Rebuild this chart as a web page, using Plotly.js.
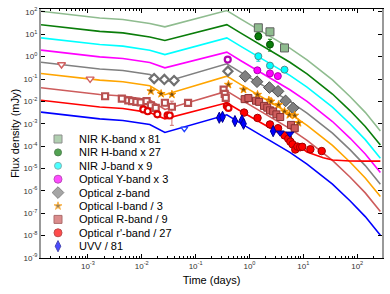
<!DOCTYPE html>
<html><head><meta charset="utf-8">
<script src="https://cdn.plot.ly/plotly-3.0.1.min.js"></script>
<style>html,body{margin:0;padding:0;background:#fff}#chart{width:390px;height:294px}</style>
</head><body><div id="chart"></div>
<script>
// ---- model curves (time in days, flux in mJy) ----
const tModel = [1.35e-4, 5.0e-4, 1.66e-3, 4.47e-3, 8.13e-3, 0.0141, 0.0269, 0.1, 0.38, 0.68, 1.38, 2.75, 5.62, 11.7, 23.4, 34.7, 74.1, 141, 269];
const modelK = [107, 75.9, 53.7, 45.7, 38.0, 30.2, 21.4, 49.5, 115, 49.0, 18.2, 6.92, 2.40, 0.724, 0.204, 0.0912, 0.0162, 0.00324, 0.000479];
const modelH = [26.9, 19.1, 13.5, 11.5, 9.55, 7.59, 5.25, 11.9, 26.9, 11.5, 4.27, 1.62, 0.562, 0.170, 0.0479, 0.0214, 0.0038, 0.000759, 0.000112];
const modelJ = [6.92, 4.90, 3.47, 2.95, 2.45, 1.95, 1.23, 2.92, 6.92, 2.95, 1.10, 0.417, 0.145, 0.0437, 0.0123, 0.0055, 0.000977, 0.000195, 0.0000288];
const modelY = [1.95, 1.38, 0.977, 0.832, 0.692, 0.550, 0.316, 0.708, 1.585, 0.676, 0.251, 0.0955, 0.0331, 0.01, 0.00282, 0.00126, 0.000224, 4.47e-5, 6.61e-6];
const modelZ = [0.562, 0.398, 0.282, 0.240, 0.200, 0.158, 0.0741, 0.188, 0.479, 0.204, 0.0759, 0.0288, 0.01, 0.00302, 0.000851, 0.00038, 6.76e-5, 1.35e-5, 2.0e-6];
const modelI = [0.178, 0.126, 0.0891, 0.0759, 0.0631, 0.0501, 0.02, 0.0519, 0.135, 0.0575, 0.0214, 0.00813, 0.00282, 0.000851, 0.00024, 0.000107, 1.91e-5, 3.8e-6, 5.62e-7];
const modelR = [0.0407, 0.0288, 0.0204, 0.0174, 0.0145, 0.0115, 0.00437, 0.0112, 0.0288, 0.0123, 0.00457, 0.00174, 0.000603, 0.000182, 5.13e-5, 2.29e-5, 4.07e-6, 8.13e-7, 1.2e-7];
const modelRp = [0.01122, 0.00794, 0.00562, 0.00479, 0.00398, 0.00316, 0.00166, 0.0038, 0.00871, 0.00374, 0.0014, 0.000546, 0.000203, 5.5e-5, 3.0e-5, 2.4e-5, 2.15e-5, 2.14e-5, 2.14e-5];
const modelUVV = [0.00331, 0.00234, 0.00166, 0.00141, 0.00117, 0.000933, 0.000407, 0.00101, 0.00251, 0.00107, 0.000398, 0.000151, 5.25e-5, 1.58e-5, 4.47e-6, 2.0e-6, 3.55e-7, 7.08e-8, 1.05e-8];

// ---- observations ----
const kT = [1.46, 2.40, 4.47];           const kF = [19.5, 12.9, 2.45];
const hT = [1.46, 2.40];                 const hF = [8.13, 3.47];
const hErrUp = [3.4, 2.5];               const hErrDn = [2.4, 1.7];
const jT = [1.46, 2.40, 4.47];           const jF = [1.047, 0.398, 0.263];
const jErrUp = [0.18, 0.05, 0.04];       const jErrDn = [0.42, 0.05, 0.04];
const yOpenT = [0.395];                  const yOpenF = [0.741];
const yT = [1.40, 2.40, 3.36];           const yF = [0.245, 0.178, 0.135];
const zOpenT = [0.017, 0.0263, 0.0398, 0.398]; const zOpenF = [0.105, 0.0955, 0.0851, 0.224];
const zT = [0.832, 1.38, 2.34, 3.39, 4.68, 6.46]; const zF = [0.132, 0.0759, 0.0417, 0.0282, 0.0105, 0.00501];
const iT = [0.0148, 0.0229, 0.0363, 0.407, 0.776, 1.41, 2.29, 2.51, 3.47, 4.47, 5.50, 6.92, 8.13];
const iF = [0.0288, 0.0219, 0.0204, 0.0562, 0.0339, 0.02, 0.0112, 0.01, 0.00708, 0.00355, 0.00251, 0.00234, 0.0011];
const rOpenT = [0.00209, 0.00427, 0.00562, 0.00661, 0.00794, 0.00955, 0.0123, 0.0148, 0.0182, 0.0269, 0.0363, 0.0724, 0.331, 0.347, 0.363];
const rOpenF = [0.017, 0.0132, 0.011, 0.0102, 0.00955, 0.00912, 0.0102, 0.00661, 0.00513, 0.00871, 0.00575, 0.00851, 0.0339, 0.0219, 0.0145];
const rOpenErrUp = [0, 0, 0, 0, 0, 0, 0, 0, 0, 0, 0.0045, 0, 0, 0, 0];
const rOpenErrDn = [0, 0, 0, 0, 0, 0, 0, 0, 0, 0, 0.0049, 0, 0, 0, 0];
const rT = [0.813, 0.955, 1.32, 1.51, 1.86, 2.14, 2.40, 2.75, 3.16, 3.72, 5.89, 6.92];
const rF = [0.0126, 0.0141, 0.0107, 0.00955, 0.00631, 0.00525, 0.00398, 0.00355, 0.00263, 0.002, 0.000891, 0.000631];
const rpOpenT = [0.0107, 0.0129, 0.0195, 0.0302, 0.0331, 0.38, 0.407];
const rpOpenF = [0.00437, 0.00363, 0.00263, 0.0024, 0.00234, 0.00617, 0.00513];
const rpT = [0.794, 1.41, 2.40, 3.39, 4.47, 5.25, 5.75, 6.31, 7.08, 7.76, 8.71, 9.55, 13.5, 21.9];
const rpF = [0.00316, 0.00182, 0.000933, 0.000631, 0.000302, 0.000214, 0.000158, 0.00012, 7.08e-5, 9.55e-5, 8.91e-5, 9.33e-5, 7.24e-5, 6.03e-5];
const uvvT = [0.275, 0.316, 0.537, 0.724, 0.776, 2.75];
const uvvF = [0.00186, 0.00204, 0.00132, 0.00141, 0.001, 0.000468];
const uvvErr = [0.0003, 0.0003, 0.0003, 0.0004, 0.0003, 0.0001];
const uvvLimT = [3.72, 5.62];            const uvvLimF = [0.000398, 0.000355];
const uvvOpenLimT = [0.0617];            const uvvOpenLimF = [0.000603];
const rLimT = [0.000324, 0.0011];        const rLimF = [0.447, 0.102];

const legendLabels = ['NIR K-band x 81', 'NIR H-band x 27', 'NIR J-band x 9', 'Optical Y-band x 3', 'Optical z-band',
  'Optical I-band / 3', 'Optical R-band / 9', "Optical r'-band / 27", 'UVV / 81'];

// ---- tick labels ----
const xTickVals = [1e-3, 1e-2, 1e-1, 1, 10, 100];
const xTickText = ['10<sup>-3</sup>', '10<sup>-2</sup>', '10<sup>-1</sup>', '10<sup>0</sup>', '10<sup>1</sup>', '10<sup>2</sup>'];
const yTickVals = [1e2, 1e1, 1, 1e-1, 1e-2, 1e-3, 1e-4, 1e-5, 1e-6, 1e-7, 1e-8, 1e-9];
const yTickText = ['10<sup>2</sup>', '10<sup>1</sup>', '10<sup>0</sup>', '10<sup>-1</sup>', '10<sup>-2</sup>', '10<sup>-3</sup>',
  '10<sup>-4</sup>', '10<sup>-5</sup>', '10<sup>-6</sup>', '10<sup>-7</sup>', '10<sup>-8</sup>', '10<sup>-9</sup>'];
const xMinorVals = [];
[1e-4, 1e-3, 1e-2, 1e-1, 1, 10, 100].forEach(d => [2, 3, 4, 5, 6, 7, 8, 9].forEach(m => xMinorVals.push(d * m)));

// ---- styles ----
const C = {K:'#8fbc8f', H:'#0a7d0a', J:'#00ffff', Y:'#ff00ff', z:'#808080', I:'#ffa500', R:'#cd5c5c', rp:'#ff0000', U:'#0000ff'};
const legSym = ['square', 'circle', 'circle', 'circle', 'diamond', 'star', 'square', 'circle', 'diamond-tall'];
const legFill = ['#8fbc8f', '#0a7d0a', '#00ffff', '#ff00ff', '#808080', '#7a5010', '#cd5c5c', '#ff0000', '#0000ff'];
const legLine = ['#606060', '#054d05', '#4a9090', '#a000a0', '#505050', '#ff9900', '#8b3030', '#a00000', '#000090'];

function line(y, color) {
  return {x: tModel, y: y, type: 'scatter', mode: 'lines', line: {color: color, width: 1.6}, showlegend: false, hoverinfo: 'skip'};
}
function pts(x, y, sym, fill, lc, size, lw, extra) {
  return Object.assign({x: x, y: y, type: 'scatter', mode: 'markers', showlegend: false,
    marker: {symbol: sym, color: fill, size: size, line: {color: lc, width: lw}}}, extra || {});
}

const traces = [
  line(modelK, C.K), line(modelH, C.H), line(modelJ, C.J), line(modelY, C.Y), line(modelZ, C.z),
  line(modelI, C.I), line(modelR, C.R), line(modelRp, C.rp), line(modelUVV, C.U),
  pts(rLimT, rLimF, 'triangle-down', 'white', '#d06060', 7, 1.4),
  pts(uvvOpenLimT, uvvOpenLimF, 'triangle-down', 'white', '#2040ff', 6, 1.3),
  pts(kT, kF, 'square', C.K, '#606060', 8, 1),
  pts(hT, hF, 'circle', C.H, '#054d05', 7, 1, {error_y: {type: 'data', array: hErrUp, arrayminus: hErrDn, color: C.H, thickness: 1, width: 2}}),
  pts(jT, jF, 'circle', C.J, '#4a9090', 7, 1, {error_y: {type: 'data', array: jErrUp, arrayminus: jErrDn, color: '#00cccc', thickness: 1, width: 2}}),
  pts(yOpenT, yOpenF, 'circle', 'white', '#b000b0', 6, 2.2),
  pts(yT, yF, 'circle', C.Y, '#b000b0', 7, 1),
  pts(zOpenT, zOpenF, 'diamond', 'white', '#707070', 7, 2.2),
  pts(zT, zF, 'diamond', C.z, '#505050', 9, 1),
  pts(iT, iF, 'star', '#7a5010', '#ff9900', 6, 1),
  pts(rOpenT, rOpenF, 'square', 'white', '#b85050', 6, 2.2, {error_y: {type: 'data', array: rOpenErrUp, arrayminus: rOpenErrDn, color: '#d07070', thickness: 1, width: 2}}),
  pts(rT, rF, 'square', C.R, '#8b3030', 7, 1),
  pts(rpOpenT, rpOpenF, 'circle', 'white', '#e00000', 6, 2.2),
  pts(rpT, rpF, 'circle', C.rp, '#a00000', 7.5, 1),
  pts(uvvT, uvvF, 'diamond-tall', C.U, '#000090', 8, 1, {error_y: {type: 'data', array: uvvErr, color: C.U, thickness: 1, width: 0}}),
  pts(uvvLimT, uvvLimF, 'triangle-down', C.U, '#000090', 7, 1),
  // legend markers on overlay pixel axes
  {x: legendLabels.map(() => 17), y: legendLabels.map((_, i) => 130 + i * 13.4), xaxis: 'x2', yaxis: 'y2',
   type: 'scatter', mode: 'markers', showlegend: false, hoverinfo: 'skip',
   marker: {symbol: legSym, color: legFill, size: [8, 7, 7, 8, 9, 6, 8, 8, 8], line: {color: legLine, width: 1}}}
];

const annotations = legendLabels.map((t, i) => ({
  x: 36, y: 130 + i * 13.4, xref: 'x2', yref: 'y2', text: t, showarrow: false,
  xanchor: 'left', yanchor: 'middle', font: {size: 11, color: '#000'}
}));

const layout = {
  width: 390, height: 294,
  margin: {l: 41, r: 8, t: 9, b: 36},
  paper_bgcolor: '#fff', plot_bgcolor: '#fff',
  font: {family: 'Liberation Sans, Arial, sans-serif', color: '#000'},
  showlegend: false,
  xaxis: {
    type: 'log', range: [-3.87, 2.46], tickmode: 'array', tickvals: xTickVals, ticktext: xTickText,
    showgrid: false, zeroline: false, showline: true, linecolor: '#000', linewidth: 1, mirror: 'allticks',
    ticks: 'inside', ticklen: 4, tickcolor: '#000', tickfont: {size: 8, color: '#333'},
    minor: {tickmode: 'array', tickvals: xMinorVals, ticks: 'inside', ticklen: 2, tickcolor: '#000', showgrid: false},
    title: {text: 'Time (days)', font: {size: 11}, standoff: 6}
  },
  yaxis: {
    type: 'log', range: [-9, 2.13], tickmode: 'array', tickvals: yTickVals, ticktext: yTickText,
    showgrid: false, zeroline: false, showline: true, linecolor: '#999', linewidth: 2, mirror: 'allticks',
    ticks: 'inside', ticklen: 4, tickcolor: '#000', tickfont: {size: 8, color: '#333'},
    title: {text: 'Flux density (mJy)', font: {size: 11}, standoff: 2}
  },
  xaxis2: {overlaying: 'x', range: [0, 341], visible: false, fixedrange: true},
  yaxis2: {overlaying: 'y', range: [249, 0], visible: false, fixedrange: true},
  annotations: annotations
};

Plotly.newPlot('chart', traces, layout, {staticPlot: true, displayModeBar: false});
</script>
</body></html>
